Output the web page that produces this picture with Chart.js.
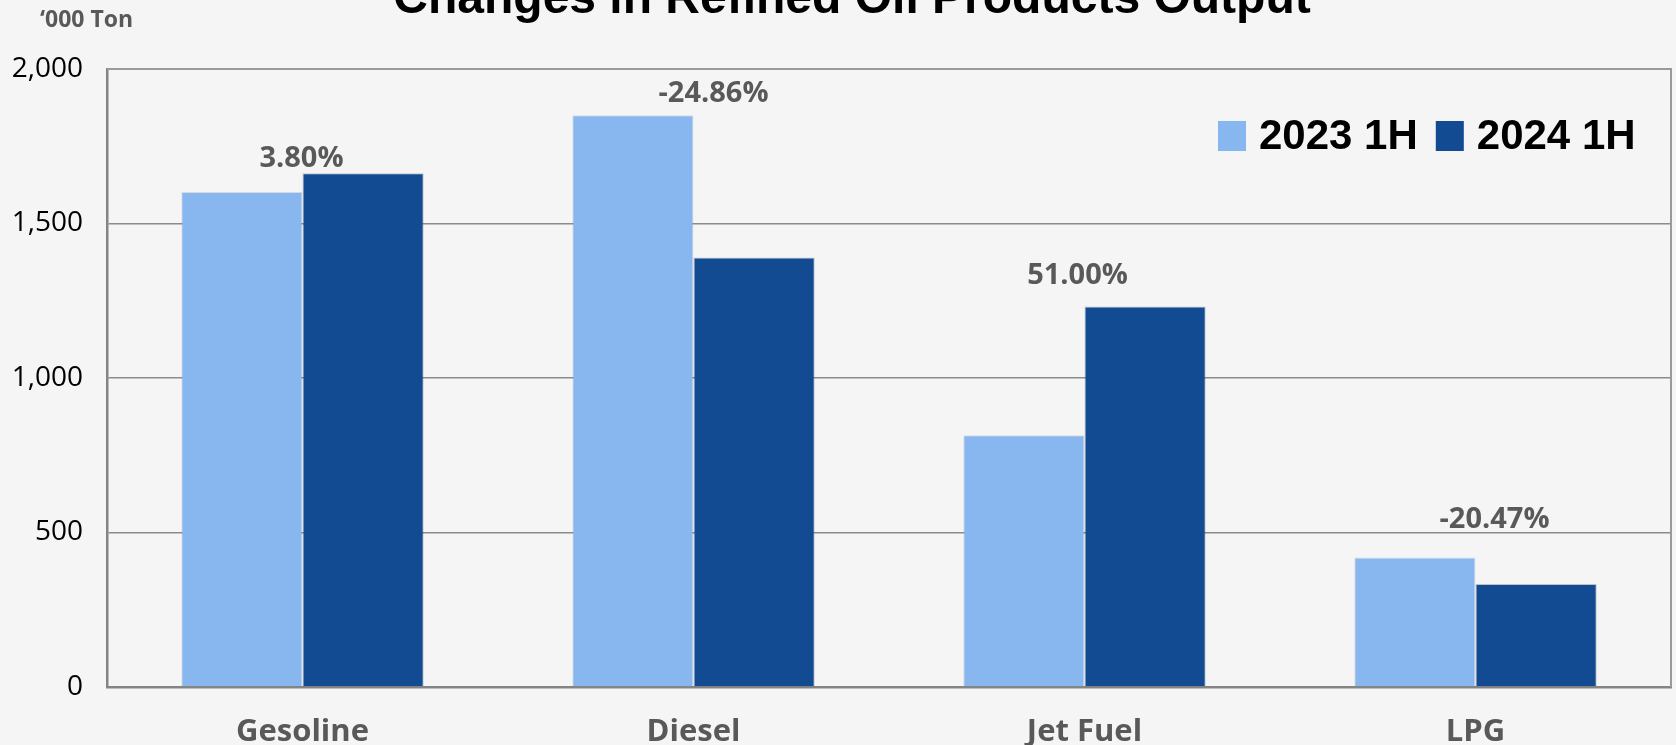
<!DOCTYPE html>
<html>
<head>
<meta charset="utf-8">
<title>Changes in Refined Oil Products Output</title>
<script src="https://cdn.jsdelivr.net/npm/chart.js@4.4.1/dist/chart.umd.min.js"></script>
<style>
  html, body { margin: 0; padding: 0; background: #f5f5f5; }
  #wrap { width: 1676px; height: 745px; }
</style>
</head>
<body>
<div id="wrap"><canvas id="outputChart" width="1676" height="745"></canvas></div>
<script>
/* Refined oil products output, first half 2023 vs 2024 */

const categories   = ["Gesoline", "Diesel", "Jet Fuel", "LPG"];
const output2023   = [1602, 1850, 815, 419];
const output2024   = [1663, 1390, 1231, 333];
const changeLabels = ["3.80%", "-24.86%", "51.00%", "-20.47%"];
const seriesNames  = ["2023 1H", "2024 1H"];
const yTicks       = [0, 500, 1000, 1500, 2000];

const LIGHT = "#88b6ee";
const DARK  = "#124b91";
const GREY  = "#595959";

// label nudges (px) relative to the taller bar of each group
const labelDx = [-1, 20, -7, 19];
const labelDy = [14, 22, 31, 38];

// ── Title, unit, frame, change labels, legend ─────────────────────────────────
const decor = {
  id: "decor",
  beforeDatasetsDraw(chart) {
    const { ctx, chartArea: a } = chart;
    ctx.save();
    ctx.strokeStyle = "#9a9a9a";
    ctx.lineWidth = 2;
    ctx.beginPath();
    ctx.moveTo(a.left, a.top);
    ctx.lineTo(a.right, a.top);
    ctx.lineTo(a.right, a.bottom);
    ctx.stroke();
    ctx.restore();
  },
  afterDraw(chart) {
    const { ctx, scales } = chart;
    ctx.save();

    // chart title (sits partly above the canvas edge)
    ctx.fillStyle = "#000";
    ctx.font = "bold 48px 'Liberation Sans', Arial, sans-serif";
    ctx.textAlign = "center";
    ctx.textBaseline = "alphabetic";
    ctx.fillText("Changes in Refined Oil Products Output", 852, 13);

    // unit
    ctx.fillStyle = GREY;
    ctx.font = "bold 23px 'Open Sans', sans-serif";
    ctx.textAlign = "left";
    ctx.textBaseline = "middle";
    ctx.fillText("\u2018000 Ton", 40, 20);

    // change labels above each group
    ctx.font = "bold 29px 'Open Sans', sans-serif";
    ctx.textAlign = "center";
    categories.forEach((c, i) => {
      const top = Math.max(output2023[i], output2024[i]);
      const x = scales.x.getPixelForValue(i) + labelDx[i];
      const y = scales.y.getPixelForValue(top) - labelDy[i];
      ctx.fillText(changeLabels[i], x, y);
    });

    // legend, top-right inside the plot
    ctx.font = "bold 42px 'Liberation Sans', Arial, sans-serif";
    ctx.textBaseline = "middle";
    ctx.textAlign = "left";
    const ly = 136;
    let lx = 1218;
    chart.data.datasets.forEach(ds => {
      ctx.fillStyle = ds.backgroundColor;
      ctx.fillRect(lx, ly - 15, 28, 30);
      ctx.fillStyle = "#000";
      ctx.fillText(ds.label, lx + 41, ly + 1);
      lx += 41 + ctx.measureText(ds.label).width + 18;
    });
    ctx.restore();
  },
};

new Chart(document.getElementById("outputChart"), {
  type: "bar",
  data: {
    labels: categories,
    datasets: [
      { label: seriesNames[0], data: output2023, backgroundColor: LIGHT,
        borderColor: "rgba(90,110,140,0.2)", borderWidth: 1 },
      { label: seriesNames[1], data: output2024, backgroundColor: DARK,
        borderColor: "rgba(20,40,80,0.25)", borderWidth: 1 },
    ],
  },
  options: {
    responsive: false,
    animation: false,
    devicePixelRatio: 1,
    layout: { padding: { top: 69, right: 5, left: 0, bottom: 0 } },
    plugins: { legend: { display: false }, tooltip: { enabled: false } },
    datasets: { bar: { categoryPercentage: 0.62, barPercentage: 1 } },
    scales: {
      x: {
        grid: { display: false, drawTicks: false },
        border: { color: "#848484", width: 2.5 },
        ticks: { color: GREY, padding: 27, font: { family: "'Open Sans'", size: 31, weight: "bold" } },
        afterFit: s => { s.height = 58; },
      },
      y: {
        min: 0, max: 2000,
        afterBuildTicks: s => { s.ticks = yTicks.map(v => ({ value: v })); },
        grid: { color: "#8c8c8c", lineWidth: 1.5, drawTicks: false },
        border: { color: "#848484", width: 2.5 },
        ticks: {
          color: "#000", padding: 24,
          font: { family: "'Open Sans'", size: 28 },
          callback: v => v.toLocaleString("en-US"),
        },
        afterFit: s => { s.width = 107; },
      },
    },
  },
  plugins: [decor],
});
</script>
</body>
</html>
